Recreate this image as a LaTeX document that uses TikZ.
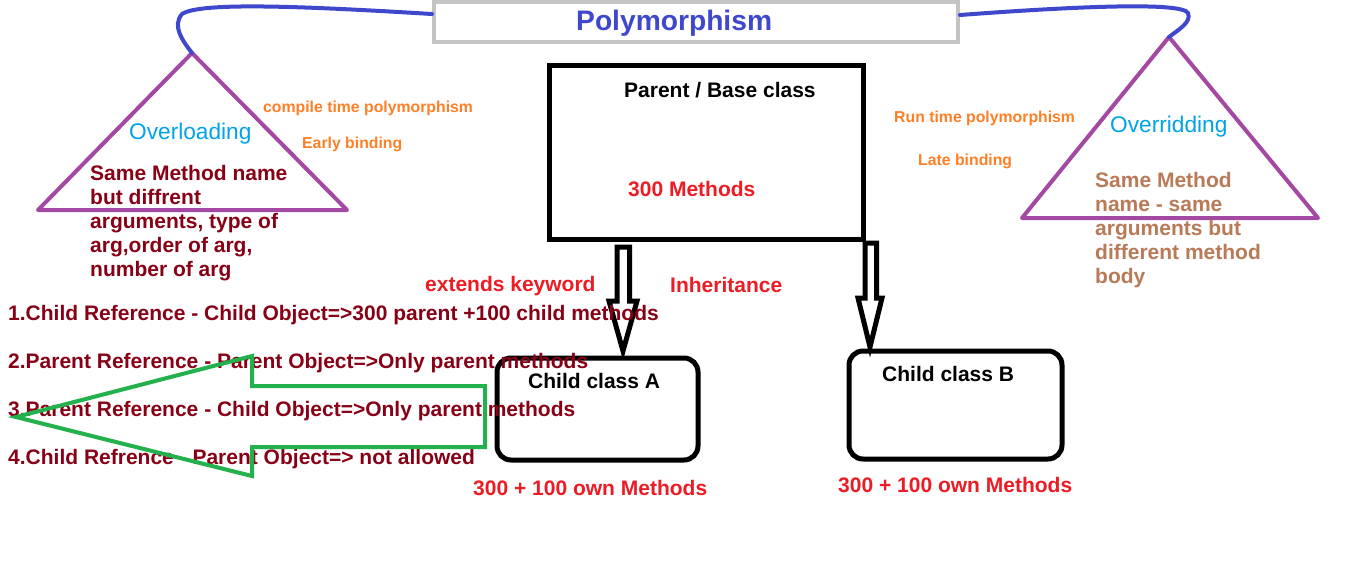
\documentclass[tikz,border=0pt]{standalone}
\usepackage{fontspec}
\setmainfont{Liberation Sans}
\definecolor{titleblue}{HTML}{3F48CC}
\definecolor{skyblue}{HTML}{00A2E8}
\definecolor{darkred}{HTML}{880015}
\definecolor{brightred}{HTML}{ED1C24}
\definecolor{notecolor}{HTML}{FF7F27}
\definecolor{trianglecolor}{HTML}{A349A4}
\definecolor{bodybrown}{HTML}{B97A57}
\definecolor{arrowgreen}{HTML}{22B14C}
\definecolor{framegray}{HTML}{C3C3C3}
\begin{document}
\begin{tikzpicture}[x=1pt,y=-1pt,
  txt/.style={inner sep=0pt,anchor=base west,font=\bfseries\fontsize{21}{24}\selectfont},
  note/.style={inner sep=0pt,anchor=base west,text=notecolor,font=\bfseries\fontsize{15.8}{19}\selectfont},
  kind/.style={inner sep=0pt,anchor=base west,text=skyblue,font=\fontsize{22.67}{26}\selectfont},
  multi/.style={txt,anchor=north west,align=left},
  titlebox/.style={draw=framegray,line width=4pt,minimum width=524pt,minimum height=40pt,inner sep=0pt},
  parentbox/.style={draw,line width=5pt,minimum width=314pt,minimum height=174pt,inner sep=0pt},
  childbox/.style={draw,line width=5pt,rounded corners=14pt,inner sep=0pt},
  link/.style={draw=titleblue,line width=4pt,line cap=round},
  triangle/.style={draw=trianglecolor,line width=4pt,line join=round},
  blockarrow/.style={draw,line width=5pt,line join=miter},
  backarrow/.style={draw=arrowgreen,line width=4pt,line join=miter}]
\useasboundingbox (0,0) rectangle (1360,566);
\fill[white] (0,0) rectangle (1360,566);

% title
\node[titlebox] (title) at (696,22) {};
\node[inner sep=0pt,anchor=base west,text=titleblue,font=\bfseries\fontsize{28.2}{32}\selectfont] (titletext) at (576,30) {Polymorphism};

% triangles
\coordinate (ltop) at (192,53);
\coordinate (lleft) at (38,210);
\coordinate (lright) at (347,210);
\coordinate (rtop) at (1169,37);
\coordinate (rleft) at (1022,218);
\coordinate (rright) at (1318,218);
\draw[triangle] (ltop) -- (lright) -- (lleft) -- cycle;
\draw[triangle] (rtop) -- (rright) -- (rleft) -- cycle;

% curves from the title to the triangles
\draw[link] ([yshift=8pt]title.west) .. controls (300,6) and (200,2) .. (182,14)
            .. controls (172,26) and (182,40) .. (ltop);
\draw[link] ([yshift=7pt]title.east) .. controls (1080,6) and (1182,2) .. (1188,13)
            .. controls (1192,22) and (1178,30) .. (rtop);

% left triangle texts
\node[kind] (overloading) at (129,139) {Overloading};
\node[multi,text=darkred] (overloadtext) at (90,165) {Same Method name\\but diffrent\\arguments, type of\\arg,order of arg,\\number of arg};
\node[note] (compile) at (263,112) {compile time polymorphism};
\node[note] (early) at (302,148) {Early binding};

% right triangle texts
\node[kind] (overriding) at (1110,132) {Overridding};
\node[multi,text=bodybrown] (overridetext) at (1095,172) {Same Method\\name - same\\arguments but\\different method\\body};
\node[note] (runtime) at (894,122) {Run time polymorphism};
\node[note] (late) at (918,165) {Late binding};

% class boxes
\node[parentbox] (parent) at (706,152) {};
\node[txt] (parenttext) at (624,97.5) {Parent / Base class};
\node[txt,text=brightred] (parentmethods) at (628,196.5) {300 Methods};

\node[childbox,minimum width=201pt,minimum height=102pt] (childA) at (597.5,409) {};
\node[txt] (childAtext) at (528,388) {Child class A};
\node[txt,text=brightred] (childAmethods) at (473,495.5) {300 + 100 own Methods};

\node[childbox,minimum width=213pt,minimum height=108pt] (childB) at (955.5,405) {};
\node[txt] (childBtext) at (882,381.5) {Child class B};
\node[txt,text=brightred] (childBmethods) at (838,492.5) {300 + 100 own Methods};

% inheritance arrows
\draw[blockarrow] (617,247) -- (617,301) -- (609,301) -- (623,351) -- (637,301) -- (629.5,301) -- (629.5,247) -- cycle;
\draw[blockarrow] (865,243) -- (865,298) -- (858,298) -- (870,347) -- (882,298) -- (876.5,298) -- (876.5,243) -- cycle;

\node[txt,text=brightred] (extends) at (425,291) {extends keyword};
\node[txt,text=brightred] (inheritance) at (670,292) {Inheritance};

% reference / object combinations
\node[txt,text=darkred] (case1) at (8,320.5) {1.Child Reference - Child Object=>300 parent +100 child methods};
\node[txt,text=darkred] (case2) at (8,368.5) {2.Parent Reference - Parent Object=>Only parent methods};
\node[txt,text=darkred] (case3) at (8,416.5) {3.Parent Reference - Child Object=>Only parent methods};
\node[txt,text=darkred] (case4) at (8,464.5) {4.Child Refrence - Parent Object=> not allowed};

% green outline arrow
\draw[backarrow] (16,417) -- (252,356) -- (252,386) -- (485,386) -- (485,447) -- (252,447) -- (252,476) -- cycle;
\end{tikzpicture}
\end{document}
